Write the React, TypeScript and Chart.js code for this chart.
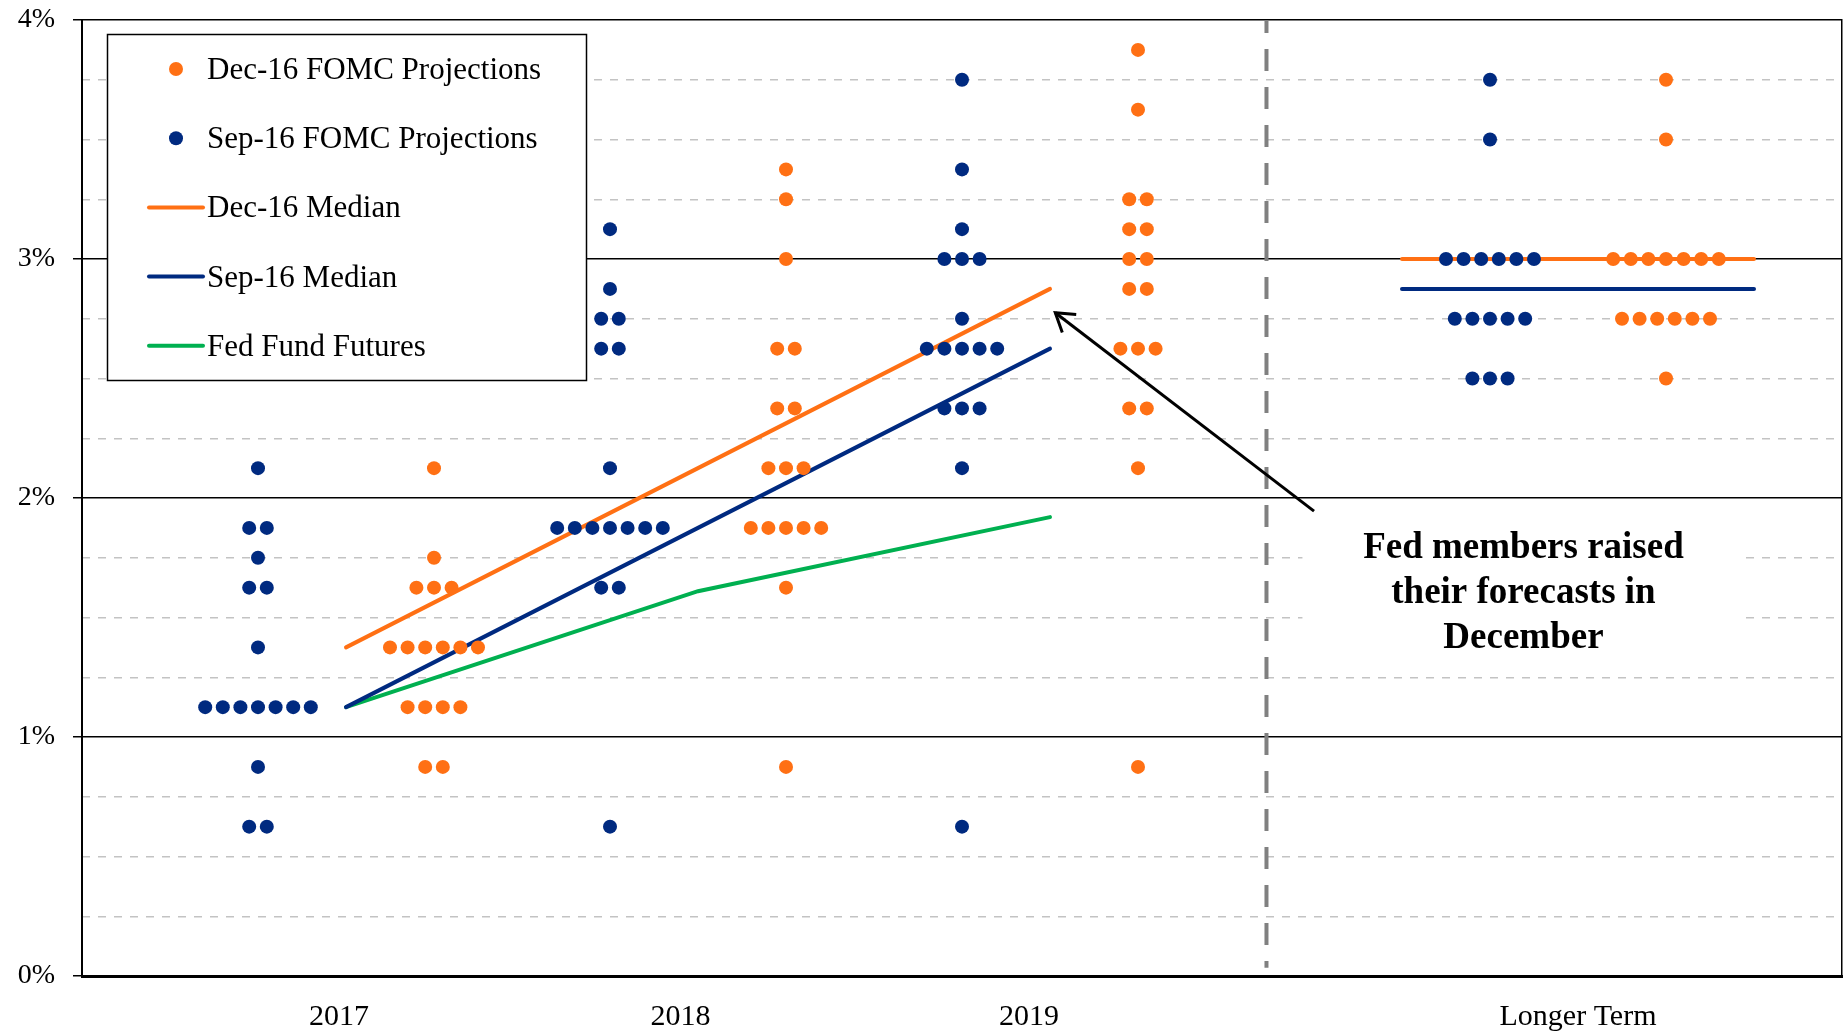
import React, { useEffect, useRef } from 'react';
import { Chart, registerables } from 'chart.js';

Chart.register(...registerables);

// ---------- data ----------
const categories = ['2017', '2018', '2019', 'Longer Term'];
const groupCenters = [1.5, 3.5, 5.5, 8.5];
const labelPositions = [1.46, 3.4, 5.38, 8.5];
const dividerX = 6.73;
const yTickValues = [0, 1, 2, 3, 4];

// [rate %, number of participants]
const sep2017 = [[2.125, 1], [1.875, 2], [1.75, 1], [1.625, 2], [1.375, 1], [1.125, 7], [0.875, 1], [0.625, 2]];
const sep2018 = [[3.125, 1], [2.875, 1], [2.75, 2], [2.625, 2], [2.125, 1], [1.875, 7], [1.625, 2], [0.625, 1]];
const sep2019 = [[3.75, 1], [3.375, 1], [3.125, 1], [3.0, 3], [2.75, 1], [2.625, 5], [2.375, 3], [2.125, 1], [0.625, 1]];
const sepLonger = [[3.75, 1], [3.5, 1], [3.0, 6], [2.75, 5], [2.5, 3]];

const dec2017 = [[2.125, 1], [1.75, 1], [1.625, 3], [1.375, 6], [1.125, 4], [0.875, 2]];
const dec2018 = [[3.375, 1], [3.25, 1], [3.0, 1], [2.625, 2], [2.375, 2], [2.125, 3], [1.875, 5], [1.625, 1], [0.875, 1]];
const dec2019 = [[3.875, 1], [3.625, 1], [3.25, 2], [3.125, 2], [3.0, 2], [2.875, 2], [2.625, 3], [2.375, 2], [2.125, 1], [0.875, 1]];
const decLonger = [[3.75, 1], [3.5, 1], [3.0, 7], [2.75, 6], [2.5, 1]];

const decMedian = [1.375, 2.125, 2.875, 3.0];
const sepMedian = [1.125, 1.875, 2.625, 2.875];
const fedFundFutures = [1.125, 1.61, 1.92];

const annotationLines = ['Fed members raised', 'their forecasts in', 'December'];
const annotationAnchor = [8.19, 1.749];
const arrowFrom = [7.0, 1.945];
const arrowTo = [5.53, 2.775];

// ---------- styles ----------
const ORANGE = '#FF7014';
const NAVY = '#002A80';
const GREEN = '#00B050';
const FONT = "'Liberation Serif', 'Times New Roman', serif";

const DOT_STEP = 0.1;
const DOT_R = 7;

function expandDots(columns: number[][][], offset: number) {
  const pts: { x: number; y: number }[] = [];
  columns.forEach((col, i) => {
    const cx = groupCenters[i] + offset;
    col.forEach(([v, n]) => {
      for (let k = 0; k < n; k++) {
        pts.push({ x: cx + (k - (n - 1) / 2) * DOT_STEP, y: v });
      }
    });
  });
  return pts;
}

function yearLine(values: number[]) {
  return values.slice(0, 3).map((v, i) => ({ x: groupCenters[i], y: v }));
}
function longerLine(values: number[]) {
  const c = groupCenters[3];
  return [{ x: c - 1, y: values[3] }, { x: c + 1, y: values[3] }];
}

const zeroPad = (s: any) => {
  s.paddingTop = 0;
  s.paddingBottom = 0;
  s.paddingLeft = 0;
  s.paddingRight = 0;
};

const overlayPlugin = {
  id: 'overlay',
  beforeDatasetsDraw(chart: any) {
    const { ctx, scales } = chart;
    const x = scales.x, y = scales.y;
    const cx = x.getPixelForValue(annotationAnchor[0]);
    const by = y.getPixelForValue(annotationAnchor[1]);
    ctx.save();
    ctx.fillStyle = '#ffffff';
    ctx.fillRect(cx - 221, by - 54, 442, 167);
    ctx.restore();
  },
  afterDatasetsDraw(chart: any) {
    const { ctx, scales } = chart;
    const x = scales.x, y = scales.y;
    const cx = x.getPixelForValue(annotationAnchor[0]);
    const by = y.getPixelForValue(annotationAnchor[1]);
    ctx.save();
    ctx.fillStyle = '#000';
    ctx.font = `bold 37px ${FONT}`;
    ctx.textAlign = 'center';
    ctx.textBaseline = 'alphabetic';
    annotationLines.forEach((t, i) => ctx.fillText(t, cx, by + i * 45));
    const x1 = x.getPixelForValue(arrowFrom[0]);
    const y1 = y.getPixelForValue(arrowFrom[1]);
    const x2 = x.getPixelForValue(arrowTo[0]);
    const y2 = y.getPixelForValue(arrowTo[1]);
    ctx.strokeStyle = '#000';
    ctx.lineWidth = 3;
    ctx.lineCap = 'butt';
    ctx.beginPath();
    ctx.moveTo(x1, y1);
    ctx.lineTo(x2, y2);
    ctx.stroke();
    const ang = Math.atan2(y1 - y2, x1 - x2);
    const L = 21, a = (33 * Math.PI) / 180;
    ctx.beginPath();
    ctx.moveTo(x2 + L * Math.cos(ang - a), y2 + L * Math.sin(ang - a));
    ctx.lineTo(x2, y2);
    ctx.lineTo(x2 + L * Math.cos(ang + a), y2 + L * Math.sin(ang + a));
    ctx.stroke();
    ctx.restore();
  },
  afterDraw(chart: any) {
    const { ctx } = chart;
    const ds = chart.data.datasets;
    ctx.save();
    ctx.fillStyle = '#fff';
    ctx.fillRect(107, 34, 480, 347);
    ctx.strokeStyle = '#000';
    ctx.lineWidth = 1.5;
    ctx.strokeRect(107.5, 34.5, 479, 346);
    const items = [0, 1, 2, 3, 4];
    ctx.font = `31px ${FONT}`;
    ctx.textAlign = 'left';
    ctx.textBaseline = 'alphabetic';
    items.forEach((di, i) => {
      const d = ds[di];
      const cy = 69 + i * 69.2;
      if (d.showLine) {
        ctx.strokeStyle = d.borderColor;
        ctx.lineWidth = 4;
        ctx.lineCap = 'round';
        ctx.beginPath();
        ctx.moveTo(149, cy);
        ctx.lineTo(203, cy);
        ctx.stroke();
      } else {
        ctx.fillStyle = d.backgroundColor;
        ctx.beginPath();
        ctx.arc(176, cy, DOT_R, 0, Math.PI * 2);
        ctx.fill();
      }
      ctx.fillStyle = '#000';
      ctx.fillText(d.label, 207, cy + 10);
    });
    ctx.restore();
  },
};

export default function App() {
  const ref = useRef<HTMLCanvasElement | null>(null);

  useEffect(() => {
    document.body.style.margin = '0';
    const canvas = ref.current;
    if (!canvas) return;

    const lineBase = { showLine: true, pointRadius: 0, pointHoverRadius: 0, borderWidth: 4, borderCapStyle: 'round' as const };

    const chart = new Chart(canvas, {
      type: 'scatter',
      data: {
        datasets: [
          { label: 'Dec-16 FOMC Projections', data: expandDots([dec2017, dec2018, dec2019, decLonger], 0.5), backgroundColor: ORANGE, borderWidth: 0, pointRadius: DOT_R, pointHoverRadius: DOT_R },
          { label: 'Sep-16 FOMC Projections', data: expandDots([sep2017, sep2018, sep2019, sepLonger], -0.5), backgroundColor: NAVY, borderWidth: 0, pointRadius: DOT_R, pointHoverRadius: DOT_R },
          { label: 'Dec-16 Median', data: yearLine(decMedian), borderColor: ORANGE, ...lineBase },
          { label: 'Sep-16 Median', data: yearLine(sepMedian), borderColor: NAVY, ...lineBase },
          { label: 'Fed Fund Futures', data: fedFundFutures.map((v, i) => ({ x: groupCenters[i], y: v })), borderColor: GREEN, ...lineBase },
          { label: 'Dec-16 Median (Longer Term)', data: longerLine(decMedian), borderColor: ORANGE, ...lineBase },
          { label: 'Sep-16 Median (Longer Term)', data: longerLine(sepMedian), borderColor: NAVY, ...lineBase },
          { label: 'divider', data: [{ x: dividerX, y: 4 }, { x: dividerX, y: 0.035 }], showLine: true, pointRadius: 0, borderColor: '#808080', borderWidth: 4, borderDash: [22, 16], borderDashOffset: 9, borderCapStyle: 'butt' },
        ] as any,
      },
      options: {
        animation: false,
        responsive: false,
        events: [],
        layout: { autoPadding: false, padding: { top: 20, left: 0, right: 0, bottom: 0 } },
        plugins: { legend: { display: false }, tooltip: { enabled: false } },
        scales: {
          x: {
            type: 'linear',
            min: 0,
            max: 10,
            afterBuildTicks: (s: any) => { s.ticks = labelPositions.map((v) => ({ value: v })); },
            ticks: {
              autoSkip: false,
              maxRotation: 0,
              padding: 23,
              color: '#000',
              font: { family: FONT, size: 30 },
              callback: (_v: any, i: number) => categories[i],
            },
            grid: { display: false, drawTicks: false },
            border: { display: true, color: '#000', width: 3 },
            afterFit: (s: any) => { s.height = 56; zeroPad(s); },
          },
          y: {
            type: 'linear',
            position: 'left',
            min: 0,
            max: 4,
            afterBuildTicks: (s: any) => { s.ticks = yTickValues.map((v) => ({ value: v })); },
            ticks: {
              padding: 18,
              color: '#000',
              font: { family: FONT, size: 28 },
              callback: (v: any) => `${v}%`,
            },
            grid: { color: '#000', lineWidth: 1.5, tickLength: 9, tickColor: '#000', tickWidth: 1.5 },
            border: { display: true, color: '#000', width: 2 },
            afterFit: (s: any) => { s.width = 82; zeroPad(s); },
          },
          y2: {
            type: 'linear',
            position: 'left',
            min: 0,
            max: 4,
            ticks: { display: false, stepSize: 0.25 },
            grid: {
              drawTicks: false,
              lineWidth: 1.5,
              color: (c: any) => (Number.isInteger(c.tick?.value) ? 'rgba(0,0,0,0)' : '#C3C3C3'),
            },
            border: { display: false, dash: [8, 8] },
            afterFit: (s: any) => { s.width = 0; zeroPad(s); },
          },
          yR: {
            type: 'linear',
            position: 'right',
            min: 0,
            max: 4,
            ticks: { display: false },
            grid: { display: false, drawTicks: false },
            border: { display: true, color: '#000', width: 1.5 },
            afterFit: (s: any) => { s.width = 4; zeroPad(s); },
          },
        } as any,
      },
      plugins: [overlayPlugin],
    });

    return () => chart.destroy();
  }, []);

  return (
    <div style={{ width: 1846, height: 1032, background: '#fff' }}>
      <canvas ref={ref} width={1846} height={1032} style={{ display: 'block', width: 1846, height: 1032 }} />
    </div>
  );
}
